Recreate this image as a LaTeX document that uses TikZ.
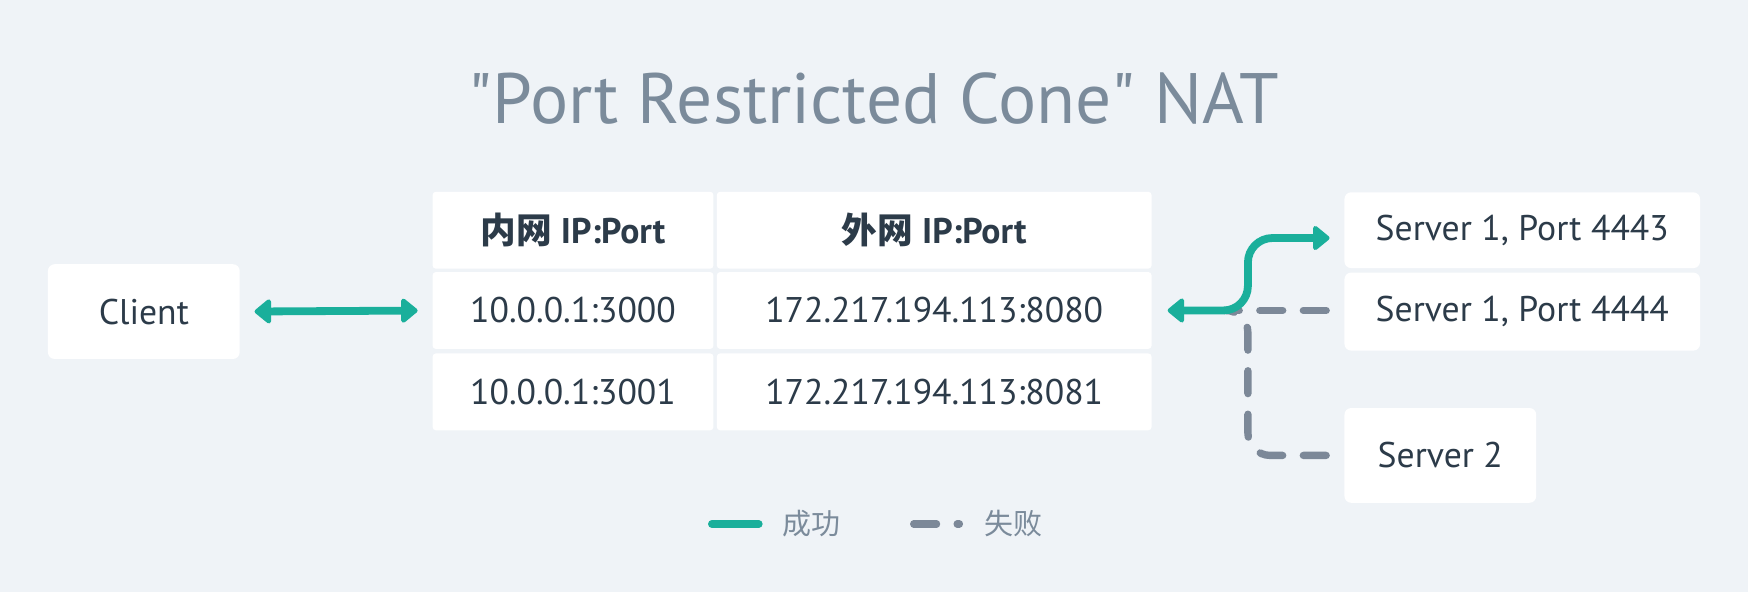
\documentclass[tikz,border=0pt]{standalone}
\usepackage{fontspec}
\setmainfont{PT Sans}
\newfontfamily\cjk{Noto Sans CJK SC}
\usetikzlibrary{arrows.meta}

\definecolor{bgcol}{HTML}{EFF3F7}
\definecolor{inkcol}{HTML}{2C3B49}
\definecolor{titlecol}{HTML}{7B8B9B}
\definecolor{okcol}{HTML}{1AAF9B}
\definecolor{failcol}{HTML}{7C8898}

\tikzset{
  cell/.style={fill=white, rounded corners=1.5pt, inner sep=0pt,
    text=inkcol, font=\fontsize{16}{18}\selectfont},
  box/.style={cell, rounded corners=3pt},
  okline/.style={draw=okcol, line width=3.5pt},
  okarrow/.style={okline, {Triangle[length=8pt,width=12.5pt,round]}-{Triangle[length=8pt,width=12.5pt,round]}},
  failline/.style={draw=failcol, line width=3.3pt, line cap=round,
    dash pattern=on 10.25pt off 9.25pt},
  legendtext/.style={inner sep=0pt, text=titlecol, font=\fontsize{13}{15}\selectfont\cjk},
}

\begin{document}
\begin{tikzpicture}[x=0.5pt,y=-0.5pt]
  \fill[bgcol] (0,0) rectangle (1568,531);
  \useasboundingbox (0,0) rectangle (1568,531);

  \node[text=titlecol, font=\fontsize{32}{36}\selectfont] (title) at (784,88)
    {\textquotedbl Port Restricted Cone\textquotedbl{} NAT};

  % client
  \node[box, minimum width=86pt, minimum height=42.5pt] (client) at (129,279.5) {Client};

  % mapping table
  \node[cell, minimum width=126pt, minimum height=34.5pt] (inhead) at (514,206.5)
    {\bfseries{\cjk 内网} IP:Port};
  \node[cell, minimum width=195pt, minimum height=34.5pt] (outhead) at (838,206.5)
    {\bfseries{\cjk 外网} IP:Port};
  \node[cell, minimum width=126pt, minimum height=34.5pt] (inone) at (514,278.5) {10.0.0.1:3000};
  \node[cell, minimum width=195pt, minimum height=34.5pt] (outone) at (838,278.5) {172.217.194.113:8080};
  \node[cell, minimum width=126pt, minimum height=34.5pt] (intwo) at (514,351.5) {10.0.0.1:3001};
  \node[cell, minimum width=195pt, minimum height=34.5pt] (outtwo) at (838,351.5) {172.217.194.113:8081};

  % servers
  \node[box, minimum width=159.5pt, minimum height=34pt] (srvport) at (1365.5,206.5) {Server 1, Port 4443};
  \node[box, minimum width=159.5pt, minimum height=35pt] (srvother) at (1365.5,279.5) {Server 1, Port 4444};
  \node[box, minimum width=86pt, minimum height=42.5pt] (srvtwo) at (1292,408.5) {Server 2};

  \path (outone.east) ++(86,0) coordinate (bend);
  \path (bend) ++(-21,0) coordinate (split);
  \coordinate (portend) at ([yshift=-3.5pt]srvport.west);

  % failed routes
  \draw[failline, shorten <=8pt] (srvother.west |- bend) -- (split);
  \draw[failline, rounded corners=10pt, shorten <=8pt]
    (srvtwo.west) -- (bend |- srvtwo.west) -- (bend) -- (split);

  % working routes
  \draw[okarrow, shorten <=6.5pt, shorten >=6.5pt] (client.east) -- (inone.west);
  \draw[okarrow, rounded corners=11pt, shorten <=7pt, shorten >=6.5pt]
    (outone.east) -- (bend) -- (bend |- portend) -- (portend);

  % legend
  \node[legendtext] (oklabel) at (728,470) {成功};
  \node[legendtext] (faillabel) at (909,470) {失败};
  \draw[okline, line cap=round] ([xshift=-10.5pt]oklabel.west) -- ++(-42,0);
  \draw[failline] ([xshift=-31.5pt]faillabel.west) -- ++(41,0);
\end{tikzpicture}
\end{document}
